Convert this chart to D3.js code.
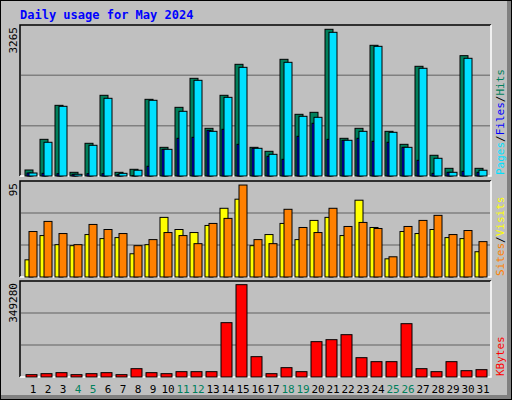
<!DOCTYPE html>
<html><head><meta charset="utf-8">
<script src="https://cdn.jsdelivr.net/npm/d3@7"></script>
<style>body{margin:0;background:#fff}</style></head>
<body><svg id="c" width="512" height="400"></svg>
<script>
const days = d3.range(1,32);
const weekend = [4,5,11,12,18,19,25,26];
const hits  = [130,793,1528,80,707,1745,80,145,1658,620,1485,2112,1031,1745,2415,620,534,2523,1334,1377,3172,815,1031,2826,966,685,2372,448,166,2602,166];
const pages = [65,729,1507,37,664,1680,58,125,1637,577,1399,2069,966,1701,2350,599,469,2458,1291,1269,3107,772,966,2804,945,620,2329,383,80,2545,125];
const files = [65,58,50,37,50,50,30,10,210,577,815,837,987,1010,685,599,426,361,858,1140,793,772,815,750,729,620,339,58,80,101,80];
const sites = [17,41,32,31,42,38,39,23,32,59,47,44,51,68,77,31,42,53,37,56,59,41,76,49,18,45,43,47,39,38,25];
const visits= [45,55,43,32,52,47,43,31,37,44,41,33,53,58,91,37,33,67,49,44,68,50,54,48,20,50,56,61,42,46,35];
const kbytes= [8500,12100,15800,8500,12100,15800,8500,30300,15800,12100,19400,19400,19400,197700,335900,74000,12100,34000,19400,128600,135800,154000,70300,55800,55800,194000,30300,19400,55800,23000,26700];
const maxTop=3265, maxMid=95, maxBot=349280;

const svg=d3.select("#c");
const mono="'DejaVu Sans Mono', monospace";
// frame
svg.append("rect").attr("x",0).attr("y",0).attr("width",512).attr("height",400).attr("fill","#000");
svg.append("rect").attr("x",1).attr("y",1).attr("width",510).attr("height",398).attr("fill","#808080");
svg.append("rect").attr("x",1).attr("y",1).attr("width",506).attr("height",394).attr("fill","#c0c0c0");
svg.append("text").attr("x",20).attr("y",19).attr("fill","#0000ff").attr("font-family",mono)
  .attr("font-weight","bold").attr("font-size",12).text("Daily usage for May 2024");

const x=d3.scaleLinear().domain([1,31]).range([33,483]);
const X0=20,X1=491;
function panel(y0,y1,max){
  svg.append("rect").attr("x",X0).attr("y",y0).attr("width",X1-X0).attr("height",y1-y0).attr("fill","#c0c0c0");
  const y=d3.scaleLinear().domain([0,max]).range([y1,y0]);
  [1/3,2/3].forEach(f=>svg.append("line").attr("x1",X0+1).attr("x2",X1-1)
    .attr("y1",y(max*f)).attr("y2",y(max*f)).attr("stroke","#808080").attr("stroke-width",1.5));
  svg.append("path").attr("d",`M${X0},${y1}V${y0}H${X1}`).attr("fill","none").attr("stroke","#000").attr("stroke-width",1.5);
  svg.append("path").attr("d",`M${X1},${y0}V${y1}H${X0}`).attr("fill","none").attr("stroke","#fff").attr("stroke-width",1.5);
  svg.append("text").attr("transform",`translate(17,${y0+2}) rotate(-90)`).attr("text-anchor","end")
    .attr("font-family",mono).attr("font-size",11).attr("fill","#000").text(max);
  return y;
}
function bars(y,data,dx,w,color){
  svg.append("g").selectAll("rect").data(data).join("rect")
    .attr("x",(d,i)=>x(i+1)+dx).attr("width",w)
    .attr("y",d=>y(d)).attr("height",d=>Math.max(0,y(0)-y(d)))
    .attr("fill",color).attr("stroke","#000").attr("stroke-width",1);
}
const yT=panel(25,176,maxTop);
bars(yT,hits,-8,8,"#00805c");
bars(yT,files,-6,4,"#0000ff");
bars(yT,pages,-4,8,"#00e0ff");
const yM=panel(181,277,maxMid);
bars(yM,sites,-8,8,"#ffff00");
bars(yM,visits,-4,8,"#ff8000");
const yB=panel(281,377,maxBot);
bars(yB,kbytes,-7,11,"#ff0000");

svg.append("g").selectAll("text").data(days).join("text")
  .attr("x",d=>x(d)).attr("y",393).attr("text-anchor","middle").attr("font-family",mono).attr("font-size",11)
  .attr("fill",d=>weekend.includes(d)?"#00805c":"#000").text(d=>d);

function legend(yb,parts){
  const t=svg.append("text").attr("transform",`translate(504,${yb}) rotate(-90)`)
    .attr("font-family",mono).attr("font-size",11);
  parts.forEach(p=>t.append("tspan").attr("fill",p[1]).text(p[0]));
}
legend(175,[["Pages","#00e0ff"],["/","#000"],["Files","#0000ff"],["/","#000"],["Hits","#00805c"]]);
legend(276,[["Sites","#ff8000"],["/","#000"],["Visits","#ffff00"]]);
legend(376,[["KBytes","#ff0000"]]);
</script></body></html>
